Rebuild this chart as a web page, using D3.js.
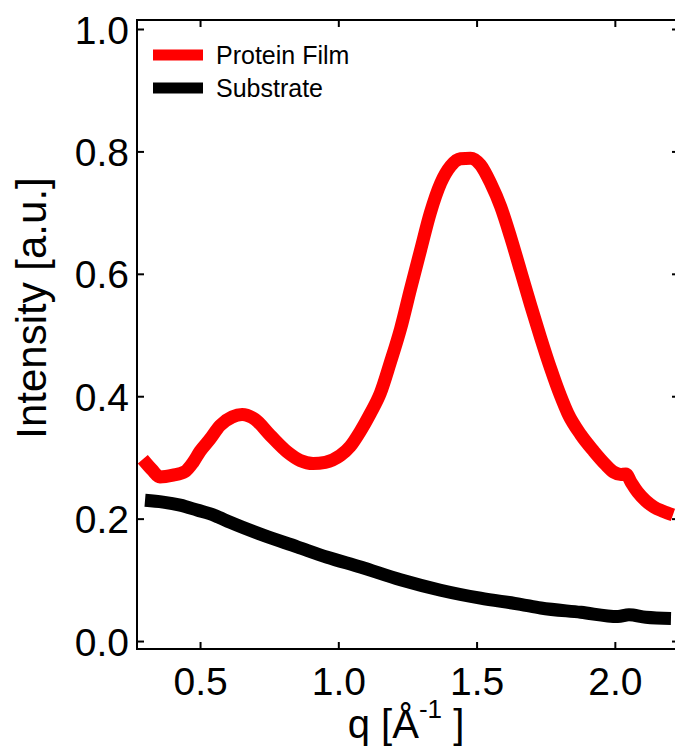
<!DOCTYPE html>
<html>
<head>
<meta charset="utf-8">
<script src="https://cdn.jsdelivr.net/npm/d3@7"></script>
<style>
  body { margin: 0; background: #fff; }
  svg { display: block; }
</style>
</head>
<body>
<div id="chart"></div>
<script>
// data
const proteinQ = [0.293, 0.326, 0.355, 0.402, 0.446, 0.475, 0.5, 0.536, 0.572, 0.616, 0.652, 0.699,
  0.754, 0.815, 0.862, 0.909, 0.953, 1.007, 1.043, 1.08, 1.116, 1.152, 1.188, 1.225, 1.261, 1.297,
  1.333, 1.37, 1.406, 1.442, 1.478, 1.514, 1.551, 1.587, 1.623, 1.659, 1.696, 1.732, 1.768, 1.804,
  1.83, 1.877, 1.924, 1.967, 1.996, 2.022, 2.04, 2.058, 2.083, 2.112, 2.141, 2.174, 2.21];
const proteinI = [0.297, 0.28, 0.268, 0.271, 0.277, 0.292, 0.31, 0.33, 0.352, 0.366, 0.37, 0.362,
  0.336, 0.309, 0.295, 0.29, 0.292, 0.303, 0.318, 0.343, 0.372, 0.405, 0.455, 0.51, 0.575, 0.638,
  0.7, 0.748, 0.776, 0.788, 0.789, 0.778, 0.748, 0.71, 0.66, 0.605, 0.548, 0.495, 0.445, 0.4,
  0.372, 0.337, 0.31, 0.288, 0.276, 0.272, 0.273, 0.26, 0.243, 0.229, 0.219, 0.212, 0.206];

const substrateQ = [0.301, 0.366, 0.428, 0.489, 0.554, 0.609, 0.728, 0.851, 0.96, 1.08, 1.225,
  1.37, 1.514, 1.659, 1.732, 1.877, 2.011, 2.051, 2.112, 2.203];
const substrateI = [0.23, 0.227, 0.222, 0.214, 0.205, 0.194, 0.173, 0.154, 0.137, 0.121, 0.1,
  0.083, 0.07, 0.06, 0.054, 0.047, 0.04, 0.043, 0.039, 0.037];

const xTicks = [0.5, 1.0, 1.5, 2.0];
const yTicks = [0.0, 0.2, 0.4, 0.6, 0.8, 1.0];
const seriesNames = ["Protein Film", "Substrate"];
const seriesColors = ["#ff0000", "#000000"];

const W = 675, H = 749;
const plotL = 137, plotR = 679, plotT = 20, plotB = 649;

const svg = d3.select("#chart").append("svg")
  .attr("width", W)
  .attr("height", H);

const x = d3.scaleLinear().domain([0.272, 2.232]).range([plotL, plotR]);
const y = d3.scaleLinear().domain([-0.013, 1.0147]).range([plotB, plotT]);

svg.append("defs").append("clipPath").attr("id", "plotclip")
  .append("rect")
  .attr("x", plotL).attr("y", plotT)
  .attr("width", plotR - plotL).attr("height", plotB - plotT);

// lines
const line = d3.line()
  .x(d => x(d[0]))
  .y(d => y(d[1]))
  .curve(d3.curveMonotoneX);

const series = [
  proteinQ.map((q, i) => [q, proteinI[i]]),
  substrateQ.map((q, i) => [q, substrateI[i]])
];

svg.append("g").attr("clip-path", "url(#plotclip)")
  .selectAll("path")
  .data(series)
  .join("path")
  .attr("d", line)
  .attr("fill", "none")
  .attr("stroke", (d, i) => seriesColors[i])
  .attr("stroke-width", 13)
  .attr("stroke-linejoin", "round")
  .attr("stroke-linecap", "butt");

// axes, ticks pointing inward
const font = "'Liberation Sans', Arial, sans-serif";

const xAxis = svg.append("g")
  .attr("transform", `translate(0,${plotB})`)
  .call(d3.axisBottom(x).tickValues(xTicks).tickSize(-7).tickFormat(d3.format(".1f")));
xAxis.selectAll("text")
  .attr("y", 46).attr("dy", 0)
  .style("font-family", font).style("font-size", "39px").attr("fill", "#000");

svg.append("g")
  .attr("transform", `translate(0,${plotT})`)
  .call(d3.axisTop(x).tickValues(xTicks).tickSize(-7).tickFormat(""));

const yAxis = svg.append("g")
  .attr("transform", `translate(${plotL},0)`)
  .call(d3.axisLeft(y).tickValues(yTicks).tickSize(-7).tickFormat(d3.format(".1f")));
yAxis.selectAll("text")
  .attr("x", -8).attr("dy", "0.36em")
  .style("font-family", font).style("font-size", "39px").attr("fill", "#000");

svg.append("g")
  .attr("transform", `translate(${plotR},0)`)
  .call(d3.axisRight(y).tickValues(yTicks).tickSize(-7).tickFormat(""));

svg.selectAll(".domain").remove();
svg.selectAll(".tick line").attr("stroke", "#000").attr("stroke-width", 2);

svg.append("rect")
  .attr("x", plotL).attr("y", plotT)
  .attr("width", plotR - plotL).attr("height", plotB - plotT)
  .attr("fill", "none").attr("stroke", "#000").attr("stroke-width", 2);

// axis titles
const xt = svg.append("text")
  .attr("x", 406).attr("y", 738)
  .attr("text-anchor", "middle")
  .style("font-family", font).style("font-size", "40px");
xt.append("tspan").text("q [Å");
xt.append("tspan").attr("dy", -20).style("font-size", "26px").text("-1");
xt.append("tspan").attr("dy", 20).text(" ]");

svg.append("text")
  .attr("transform", "translate(46,308) rotate(-90)")
  .attr("text-anchor", "middle")
  .style("font-family", font).style("font-size", "42px")
  .text("Intensity [a.u.]");

// legend
const legend = svg.append("g");
const legendY = [55, 88];
seriesNames.forEach((name, i) => {
  legend.append("line")
    .attr("x1", 153).attr("x2", 203)
    .attr("y1", legendY[i]).attr("y2", legendY[i])
    .attr("stroke", seriesColors[i]).attr("stroke-width", 11);
  legend.append("text")
    .attr("x", 216).attr("y", legendY[i] + 9)
    .style("font-family", font).style("font-size", "25px")
    .text(name);
});
</script>
</body>
</html>
